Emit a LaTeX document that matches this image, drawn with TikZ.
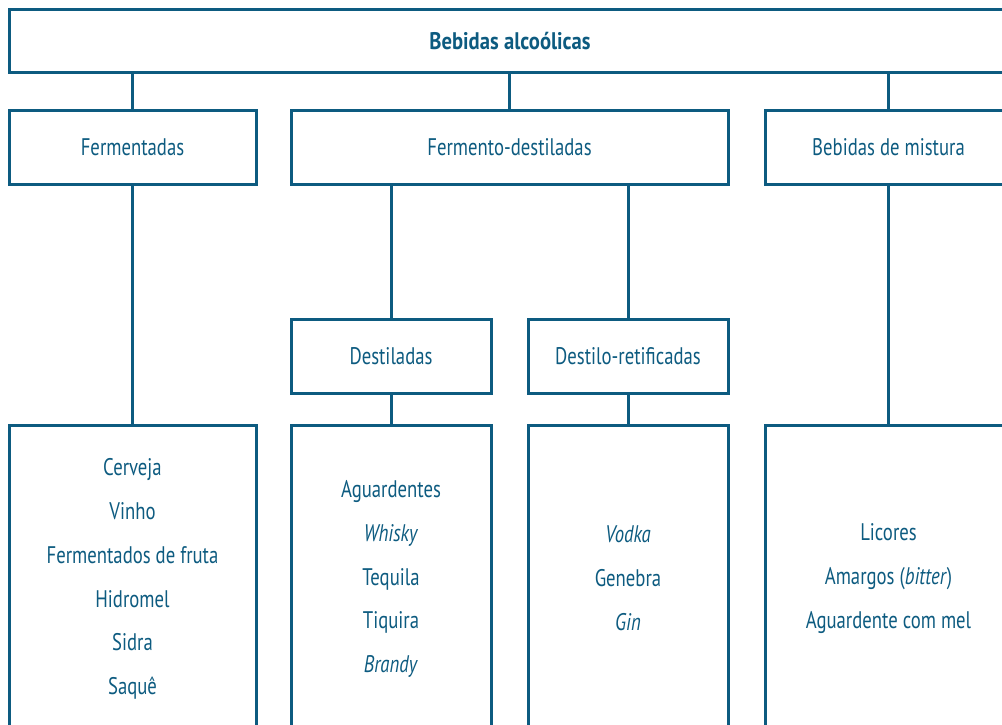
\documentclass[tikz,border=0pt]{standalone}
\usepackage{fontspec}
\setmainfont{PT Sans}[FakeStretch=0.78]
\newfontfamily\titlefont{PT Sans}[FakeStretch=0.86]
\definecolor{tc}{HTML}{0D5B80}
\begin{document}
\begin{tikzpicture}[x=0.75pt,y=-0.75pt,
  box/.style={draw=tc, line width=2.25pt, inner sep=0pt, text=tc,
    font=\fontsize{18}{21}\selectfont},
  listtext/.style={text=tc, align=center, inner sep=0pt,
    font=\fontsize{18}{32.85}\selectfont},
  conn/.style={draw=tc, line width=2.25pt}]
\useasboundingbox (0,0) rectangle (1002,724);
\clip (0,0) rectangle (1002,724);
% level 1
\node[box, minimum width=751.5pt, minimum height=47.25pt] (root) at (510,41.5) {\titlefont\bfseries Bebidas alcoólicas};
% level 2
\node[box, minimum width=185.25pt, minimum height=55.5pt] (ferm) at (132.5,147) {Fermentadas};
\node[box, minimum width=327.75pt, minimum height=55.5pt] (fd) at (509.5,147) {Fermento-destiladas};
\node[box, minimum width=185.25pt, minimum height=55.5pt] (mist) at (888.5,147) {Bebidas de mistura};
% level 3
\node[box, minimum width=150pt, minimum height=55.5pt] (dest) at (391,356) {Destiladas};
\node[box, minimum width=150pt, minimum height=55.5pt] (dr) at (628,356) {Destilo-retificadas};
% bottom boxes
\node[box, minimum width=185.25pt, minimum height=262.5pt] (b1) at (132.5,600) {};
\node[box, minimum width=150pt, minimum height=262.5pt] (b2) at (391,600) {};
\node[box, minimum width=150pt, minimum height=262.5pt] (b3) at (628,600) {};
\node[box, minimum width=185.25pt, minimum height=262.5pt] (b4) at (888.5,600) {};
% lists
\node[listtext] (l1) at (132.5,579) {Cerveja\\Vinho\\Fermentados de fruta\\Hidromel\\Sidra\\Saquê};
\node[listtext] (l2) at (391,579) {Aguardentes\\\textit{Whisky}\\Tequila\\Tiquira\\\textit{Brandy}};
\node[listtext] (l3) at (628,578.5) {\textit{Vodka}\\Genebra\\\textit{Gin}};
\node[listtext] (l4) at (888.5,578.5) {Licores\\Amargos (\textit{bitter})\\Aguardente com mel};
% connectors
\draw[conn] (root.south -| ferm.north) -- (ferm.north);
\draw[conn] (root.south -| fd.north) -- (fd.north);
\draw[conn] (root.south -| mist.north) -- (mist.north);
\draw[conn] (ferm.south) -- (b1.north);
\draw[conn] (mist.south) -- (b4.north);
\draw[conn] (fd.south -| dest.north) -- (dest.north);
\draw[conn] (fd.south -| dr.north) -- (dr.north);
\draw[conn] (dest.south) -- (b2.north);
\draw[conn] (dr.south) -- (b3.north);
\end{tikzpicture}
\end{document}
